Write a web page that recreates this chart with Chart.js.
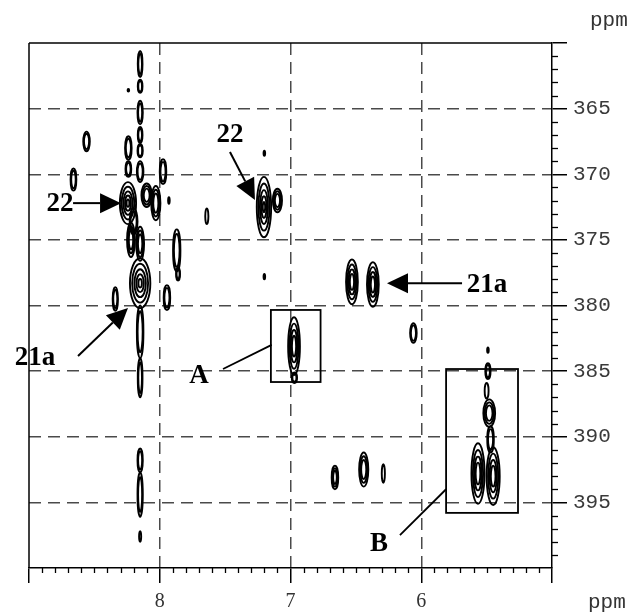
<!DOCTYPE html>
<html><head><meta charset="utf-8">
<script src="https://cdn.jsdelivr.net/npm/chart.js@4.4.1/dist/chart.umd.min.js"></script>
<style>html,body{margin:0;padding:0;background:#fff}canvas{display:block}</style>
</head><body>
<div style="width:627px;height:616px"><canvas id="c" width="627" height="616"></canvas></div>
<script>
// ---- data (ppm) ----
const xTickLabels = [8, 7, 6];
const yTickLabels = [365, 370, 375, 380, 385, 390, 395];

// cross-peak centres (F2 ppm, F1 ppm), half-widths (ppm) and number of contour levels
const peakX = [8.15, 8.15, 8.15, 8.24, 8.56, 8.66, 8.24, 8.24, 8.15, 8.15, 8.243, 8.10, 8.03, 7.975, 7.93, 7.64, 7.87, 8.22, 8.15, 8.15, 8.34, 7.945, 7.86, 8.15, 8.15, 8.15, 8.15, 8.15, 8.15, 8.20,
               7.203, 7.10, 7.20, 7.20,
               6.53, 6.37, 6.06,
               6.973, 6.97,
               6.66, 6.44, 6.29,
               5.49, 5.49, 5.48, 5.47, 5.566, 5.45, 5.50];
const peakY = [361.6, 363.3, 365.3, 363.6, 367.5, 370.4, 368.0, 369.6, 368.2, 369.8, 372.2, 371.6, 372.2, 369.8, 372.0, 373.2, 375.8, 375.0, 375.3, 378.3, 379.5, 379.4, 377.6, 382.0, 385.5, 391.8, 394.4, 397.6, 367.0, 373.6,
               372.5, 372.0, 368.4, 377.8,
               378.2, 378.4, 382.1,
               383.1, 385.5,
               393.1, 392.5, 392.8,
               383.4, 385.0, 388.2, 390.2, 392.8, 393.0, 386.5];
const peakHalfWidth = [0.018, 0.018, 0.02, 0.006, 0.025, 0.022, 0.025, 0.022, 0.02, 0.025, 0.062, 0.04, 0.035, 0.025, 0.006, 0.012, 0.028, 0.03, 0.03, 0.078, 0.02, 0.025, 0.015, 0.025, 0.018, 0.02, 0.02, 0.008, 0.018, 0.03,
               0.055, 0.035, 0.005, 0.005,
               0.045, 0.045, 0.025,
               0.045, 0.02,
               0.025, 0.035, 0.012,
               0.004, 0.02, 0.045, 0.025, 0.05, 0.05, 0.015];
const peakHalfHeight = [1.0, 0.5, 0.9, 0.1, 0.75, 0.85, 0.9, 0.6, 0.5, 0.8, 1.6, 0.9, 1.3, 0.95, 0.25, 0.6, 1.6, 1.3, 1.3, 1.9, 0.9, 0.95, 0.5, 2.0, 1.5, 0.9, 1.7, 0.4, 0.6, 1.0,
               2.3, 0.9, 0.2, 0.2,
               1.7, 1.7, 0.75,
               2.2, 0.4,
               0.9, 1.3, 0.7,
               0.2, 0.6, 1.05, 1.0, 2.3, 2.2, 0.6];
const peakLevels = [2, 2, 2, 1, 2, 2, 2, 2, 2, 2, 5, 3, 3, 2, 1, 1, 2, 3, 3, 5, 2, 2, 2, 2, 2, 2, 2, 1, 2, 2,
               5, 3, 1, 1,
               4, 4, 2,
               4, 2,
               3, 3, 1,
               1, 2, 3, 2, 4, 4, 1];

// annotations (in ppm units)
const arrowNotes = [
  { text: '22',  tx: 8.763, ty: 372.2, from: [8.663, 372.2], to: [8.296, 372.2] },
  { text: '22',  tx: 7.463, ty: 366.9, from: [7.463, 368.3], to: [7.272, 371.96] },
  { text: '21a', tx: 5.497, ty: 378.4, from: [5.688, 378.3], to: [6.262, 378.3] },
  { text: '21a', tx: 8.954, ty: 383.9, from: [8.625, 383.85], to: [8.243, 380.19] }
];
const boxNotes = [
  { text: 'A', x1: 7.15, x2: 6.77, y1: 380.34, y2: 385.83, tx: 7.70, ty: 385.3, from: [7.516, 384.84], to: [7.144, 383.0] },
  { text: 'B', x1: 5.81, x2: 5.26, y1: 384.84, y2: 395.8, tx: 6.323, ty: 398.1, from: [6.163, 397.5], to: [5.81, 394.0] }
];

const nmrPlugin = {
  id: 'nmr',
  beforeDraw(chart) {
    const c = chart.ctx;
    c.save(); c.fillStyle = '#fff'; c.fillRect(0, 0, chart.width, chart.height); c.restore();
  },
  afterDraw(chart) {
    const c = chart.ctx, a = chart.chartArea, sx = chart.scales.x, sy = chart.scales.y;
    const P = (v, w) => [sx.getPixelForValue(v), sy.getPixelForValue(w)];
    const line = (x1, y1, x2, y2) => { c.beginPath(); c.moveTo(x1, y1); c.lineTo(x2, y2); c.stroke(); };
    c.save();
    c.strokeStyle = '#000'; c.lineWidth = 1.3;
    // minor ticks
    for (let k = sx.min * 10 + 1; k < sx.max * 10; k++) {
      if (k % 10 === 0) continue;
      const px = Math.round(sx.getPixelForValue(k / 10)) + 0.5;
      line(px, a.bottom, px, a.bottom + 5);
    }
    for (let v = sy.min + 1; v < sy.max; v++) {
      if (v % 5 === 0) continue;
      const py = Math.round(sy.getPixelForValue(v)) + 0.5;
      line(a.right, py, a.right + 6, py);
    }
    // frame
    c.lineWidth = 1.5;
    line(a.left, a.top, a.right, a.top);
    line(a.left, a.top, a.left, a.bottom);
    // contours
    const meta = chart.getDatasetMeta(0);
    c.lineWidth = 1.9;
    const factors = [1, 0.78, 0.56, 0.36, 0.17];
    meta.data.forEach((pt, i) => {
      const rx = Math.abs(sx.getPixelForValue(peakX[i] + peakHalfWidth[i]) - pt.x);
      const ry = Math.abs(sy.getPixelForValue(peakY[i] + peakHalfHeight[i]) - pt.y);
      for (let l = 0; l < peakLevels[i]; l++) {
        const f = factors[l];
        c.beginPath();
        c.ellipse(pt.x, pt.y, Math.max(rx * f, 0.8), Math.max(ry * f, 0.8), 0, 0, Math.PI * 2);
        c.stroke();
      }
    });
    // labels
    c.fillStyle = '#000';
    c.font = 'bold 27px "Liberation Serif"';
    c.textAlign = 'center'; c.textBaseline = 'middle';
    const arrow = (f, t) => {
      const [x1, y1] = P(f[0], f[1]); const [x2, y2] = P(t[0], t[1]);
      const ang = Math.atan2(y2 - y1, x2 - x1), L = 21, W = 10;
      const bx = x2 - L * Math.cos(ang), by = y2 - L * Math.sin(ang);
      c.lineWidth = 2;
      line(x1, y1, bx, by);
      c.beginPath();
      c.moveTo(x2, y2);
      c.lineTo(bx + W * Math.sin(ang), by - W * Math.cos(ang));
      c.lineTo(bx - W * Math.sin(ang), by + W * Math.cos(ang));
      c.closePath(); c.fill();
    };
    arrowNotes.forEach(n => {
      const [tx, ty] = P(n.tx, n.ty);
      c.fillText(n.text, tx, ty + 1);
      arrow(n.from, n.to);
    });
    boxNotes.forEach(n => {
      const [x1, y1] = P(n.x1, n.y1); const [x2, y2] = P(n.x2, n.y2);
      c.lineWidth = 1.8;
      c.strokeRect(Math.min(x1, x2), Math.min(y1, y2), Math.abs(x2 - x1), Math.abs(y2 - y1));
      const [fx, fy] = P(n.from[0], n.from[1]); const [tx2, ty2] = P(n.to[0], n.to[1]);
      line(fx, fy, tx2, ty2);
      const [tx, ty] = P(n.tx, n.ty);
      c.fillText(n.text, tx, ty + 1);
    });
    // axis unit labels
    c.fillStyle = '#333';
    c.font = '21px "Liberation Mono"';
    c.textAlign = 'left';
    c.fillText('ppm', a.right + 38, 20);
    c.fillText('ppm', a.right + 36, a.bottom + 34);
    c.restore();
  }
};

new Chart(document.getElementById('c'), {
  type: 'scatter',
  data: { datasets: [{ data: peakX.map((v, i) => ({ x: v, y: peakY[i] })), pointRadius: 0, pointHoverRadius: 0 }] },
  options: {
    responsive: false, animation: false, devicePixelRatio: 1, events: [],
    layout: { padding: { left: 29, top: 43, right: 0, bottom: 0 } },
    plugins: { legend: { display: false }, tooltip: { enabled: false } },
    scales: {
      x: {
        type: 'linear', reverse: true, min: 5, max: 9, position: 'bottom',
        afterFit(s) { s.height = 48; },
        ticks: { stepSize: 1, autoSkip: false, maxRotation: 0, padding: 7, color: '#333',
          font: { family: 'Liberation Serif', size: 20 },
          callback: v => xTickLabels.includes(v) ? String(v) : '' },
        grid: { color: c => (c.tick && xTickLabels.includes(c.tick.value)) ? '#4a4a4a' : 'rgba(0,0,0,0)',
          lineWidth: 1.5, tickColor: '#000', tickLength: 15, tickWidth: 1.5 },
        border: { display: true, color: '#000', width: 1.5, dash: [12, 7] }
      },
      y: {
        type: 'linear', reverse: true, min: 360, max: 400, position: 'right',
        afterFit(s) { s.width = 75; },
        ticks: { stepSize: 5, autoSkip: false, padding: 6, color: '#3a3a3a',
          font: { family: 'Liberation Mono', size: 21 },
          callback: v => yTickLabels.includes(v) ? String(v) : '' },
        grid: { color: c => (c.tick && yTickLabels.includes(c.tick.value)) ? '#4a4a4a' : 'rgba(0,0,0,0)',
          lineWidth: 1.5, tickColor: c => (c.tick && c.tick.value === 400) ? 'rgba(0,0,0,0)' : '#000',
          tickLength: 15, tickWidth: 1.5 },
        border: { display: true, color: '#000', width: 1.5, dash: [12, 7] }
      }
    }
  },
  plugins: [nmrPlugin]
});
</script>
</body></html>
